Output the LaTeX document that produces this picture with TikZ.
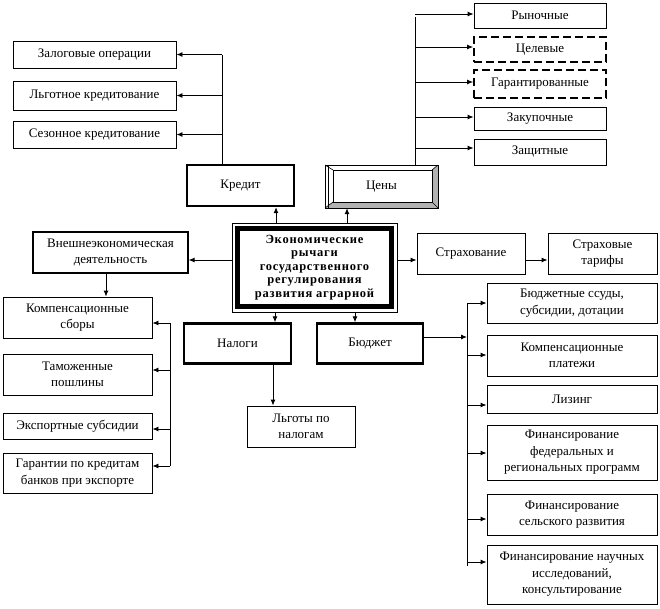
\documentclass[tikz,border=0pt]{standalone}
\usepackage{fontspec}
\setmainfont{Liberation Serif}
\usetikzlibrary{arrows.meta}
\begin{document}
\begin{tikzpicture}[x=1pt,y=-1pt,
  bx/.style={draw, line width=0.9pt, align=center, inner sep=0pt, font=\fontsize{13}{16.5}\selectfont},
  sz/.style 2 args={minimum width=#1pt, minimum height=#2pt},
  thk/.style={bx, line width=2.4pt},
  dsh/.style={bx, line width=1.8pt, dash pattern=on 8pt off 4pt},
  arr/.style={line width=0.9pt, -{Latex[length=6pt,width=5pt]}},
  ln/.style={line width=0.9pt}]
\useasboundingbox (0,0) rectangle (660,608);

% credit group
\node[bx, sz={163}{27}] (zal) at (94.5,54.5) {Залоговые операции};
\node[bx, sz={163}{29}] (lgot) at (94.5,95.5) {Льготное кредитование};
\node[bx, sz={163}{27}] (sez) at (94.5,134.5) {Сезонное кредитование};
\node[thk, sz={107}{41}] (kred) at (240.5,185.5) {Кредит};

% prices group
\node[bx, sz={132}{25}] (ryn) at (540,15.5) {Рыночные};
\node[dsh, sz={132}{25}] (cel) at (540,49.5) {Целевые};
\node[dsh, sz={132}{28}] (gar) at (540,84) {Гарантированные};
\node[bx, sz={132}{23}] (zak) at (540,118.5) {Закупочные};
\node[bx, sz={132}{26}] (zash) at (540,152) {Защитные};

% beveled Цены box
\fill[gray!60] (438,165) -- (432,170) -- (432,202) -- (438,208) -- cycle;
\fill[gray!60] (325,208) -- (333,202) -- (432,202) -- (438,208) -- cycle;
\draw[line width=0.8pt] (325,165) rectangle (438,208);
\draw[line width=0.8pt] (328,165) -- (328,208);
\draw[line width=0.6pt] (325,165) -- (333,170) (438,165) -- (432,170) (325,208) -- (333,202) (438,208) -- (432,202);
\draw[line width=0.8pt] (333,170) rectangle (432,202);
\node[font=\fontsize{13}{16.5}\selectfont, minimum width=113pt, minimum height=43pt, inner sep=0pt] (ceny) at (381.5,186.5) {Цены};

% center
\node[draw, line width=0.9pt, sz={165}{89}] (cc) at (314.5,267.5) {};
\node[draw, line width=5pt, sz={154}{78}, align=center, inner sep=0pt,
      font=\bfseries\fontsize{12.5}{13.6}\selectfont\addfontfeatures{LetterSpace=6}] (c) at (314.5,267.5)
  {Экономические\\рычаги\\государственного\\регулирования\\развития аграрной};

% left group
\node[bx, line width=1.2pt, sz={155}{41}] (vnesh) at (110.5,252.5) {Внешнеэкономическая\\деятельность};
\node[bx, sz={149}{41}] (komp) at (77.5,317.5) {Компенсационные\\сборы};
\node[bx, sz={149}{41}] (tam) at (77.5,374.5) {Таможенные\\пошлины};
\node[bx, sz={149}{26}] (exp) at (77.5,426) {Экспортные субсидии};
\node[bx, sz={149}{40}] (gar2) at (77.5,473) {Гарантии по кредитам\\банков при экспорте};

% lower middle
\node[thk, sz={107}{40}] (nalogi) at (237.5,343.5) {Налоги};
\node[thk, sz={106}{40}] (budzhet) at (370,343.5) {Бюджет};
\node[bx, sz={108}{41}] (lgoty) at (301,426.5) {Льготы по\\налогам};

% right group
\node[bx, sz={108}{41}] (strah) at (471,253.5) {Страхование};
\node[bx, sz={109}{41}] (strtar) at (602.5,253.5) {Страховые\\тарифы};
\node[bx, sz={170}{40}] (bss) at (572,303) {Бюджетные ссуды,\\субсидии, дотации};
\node[bx, sz={170}{41}] (kpl) at (572,355.5) {Компенсационные\\платежи};
\node[bx, sz={170}{28}] (liz) at (572,399) {Лизинг};
\node[bx, sz={170}{55}] (ffr) at (572,452.5) {Финансирование\\федеральных и\\региональных программ};
\node[bx, sz={170}{41}] (fsr) at (572,514.5) {Финансирование\\сельского развития};
\node[bx, sz={170}{59}] (fnau) at (572,574.5) {Финансирование научных\\исследований,\\консультирование};

% helper coordinates
\coordinate (kt) at (222,54.5);
\coordinate (ct1) at (415,14);
\coordinate (ct2) at (415,47);
\coordinate (ct3) at (415,82);
\coordinate (ct4) at (415,117);
\coordinate (ct5) at (415,148);
\coordinate (xk) at (276,0);
\coordinate (xc) at (347,0);
\coordinate (yv) at (0,260);
\coordinate (xn) at (275,0);
\coordinate (xb) at (355,0);
\coordinate (xl) at (273,0);
\coordinate (xv) at (106,0);
\coordinate (L1) at (170,323);
\coordinate (L2) at (170,370);
\coordinate (L3) at (170,429);
\coordinate (L4) at (170,466);
\coordinate (R1) at (467,303);
\coordinate (R2) at (467,355);
\coordinate (R3) at (467,405);
\coordinate (R4) at (467,453);
\coordinate (R5) at (467,519);
\coordinate (R6) at (467,562);
\coordinate (R7) at (467,566);
\coordinate (RB) at (467,337);

% credit connectors
\draw[ln] (kred.north -| kt) -- (kt);
\draw[arr] (kt) -- (zal.east);
\draw[arr] (kt |- lgot.east) -- (lgot.east);
\draw[arr] (kt |- sez.east) -- (sez.east);

% price connectors
\draw[ln] (ceny.north -| ct1) -- ([yshift=-3pt]ct1);
\draw[arr] (ct1) -- (ct1 -| ryn.west);
\draw[arr] (ct2) -- (ct2 -| cel.west);
\draw[arr] (ct3) -- (ct3 -| gar.west);
\draw[arr] (ct4) -- (ct4 -| zak.west);
\draw[arr] (ct5) -- (ct5 -| zash.west);

% center connectors
\draw[arr] (cc.north -| xk) -- (kred.south -| xk);
\draw[arr] (cc.north -| xc) -- (ceny.south -| xc);
\draw[arr] (cc.west |- yv) -- (vnesh.east |- yv);
\draw[arr] (cc.east |- yv) -- (strah.west |- yv);
\draw[arr] (strah.east |- yv) -- (strtar.west |- yv);
\draw[arr] (cc.south -| xn) -- (nalogi.north -| xn);
\draw[arr] (cc.south -| xb) -- (budzhet.north -| xb);
\draw[arr] (nalogi.south -| xl) -- (lgoty.north -| xl);
\draw[arr] (vnesh.south -| xv) -- (komp.north -| xv);

% left bracket
\draw[ln] (L1) -- (L4);
\draw[arr] (L1) -- (L1 -| komp.east);
\draw[arr] (L2) -- (L2 -| tam.east);
\draw[arr] (L3) -- (L3 -| exp.east);
\draw[arr] (L4) -- (L4 -| gar2.east);

% right bracket
\draw[ln] (R1) -- (R7);
\draw[arr] (budzhet.east |- RB) -- (RB);
\draw[arr] (R1) -- (R1 -| bss.west);
\draw[arr] (R2) -- (R2 -| kpl.west);
\draw[arr] (R3) -- (R3 -| liz.west);
\draw[arr] (R4) -- (R4 -| ffr.west);
\draw[arr] (R5) -- (R5 -| fsr.west);
\draw[arr] (R6) -- (R6 -| fnau.west);
\end{tikzpicture}
\end{document}
